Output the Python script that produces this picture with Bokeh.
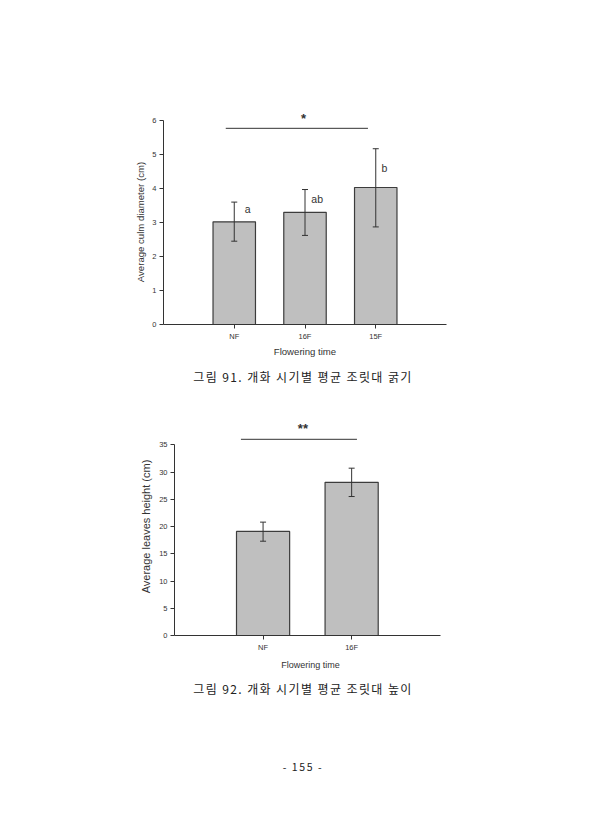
from bokeh.plotting import figure
from bokeh.models import FixedTicker, Div, Spacer, ColumnDataSource, Whisker, TeeHead, Range1d
from bokeh.layouts import column, row
from bokeh.embed import file_html
from bokeh.resources import INLINE
from bokeh.core.properties import value

# ---------- data: chart 1 (culm diameter) ----------
cats1 = ["NF", "16F", "15F"]
mean1 = [3.02, 3.30, 4.03]
lower1 = [2.45, 2.62, 2.87]
upper1 = [3.60, 3.97, 5.17]
letters1 = ["a", "ab", "b"]
letter_y1 = [3.39, 3.70, 4.60]
yticks1 = [0, 1, 2, 3, 4, 5, 6]
sig1 = "*"

# ---------- data: chart 2 (leaves height) ----------
cats2 = ["NF", "16F"]
mean2 = [19.1, 28.1]
lower2 = [17.3, 25.5]
upper2 = [20.8, 30.7]
yticks2 = [0, 5, 10, 15, 20, 25, 30, 35]
sig2 = "**"

caption1 = "그림 91. 개화 시기별 평균 조릿대 굵기"
caption2 = "그림 92. 개화 시기별 평균 조릿대 높이"
page_no = "- 155 -"

FONT = "Liberation Sans"
AX = "#333333"
BAR_FILL = "#bfbfbf"
BAR_LINE = "#3c3c3c"
W = 606
BL, BR = 163, 160   # shared left/right borders (frames get aligned in a column)
SHIFT2 = 11         # horizontal offset of the second chart
NBSP = "\u00a0"


def style(p, yticks, ytop, xn, cats, ylabel, ylab_size, xlab_size, ylab_standoff, xlab_standoff):
    p.outline_line_color = None
    p.xgrid.visible = False
    p.ygrid.visible = False
    p.background_fill_color = "white"
    p.border_fill_color = "white"
    xa = p.xaxis[0]
    ya = p.yaxis[0]
    xa.ticker = FixedTicker(ticks=list(range(1, len(cats) + 1)))
    xa.major_label_overrides = {i + 1: c for i, c in enumerate(cats)}
    xa.bounds = (0, xn)
    ya.ticker = FixedTicker(ticks=yticks)
    ya.bounds = (0, ytop)
    for a in (xa, ya):
        a.axis_line_color = AX
        a.axis_line_width = 1
        a.major_tick_line_color = AX
        a.major_tick_in = 0
        a.major_tick_out = 4
        a.minor_tick_line_color = None
        a.major_label_text_font = FONT
        a.major_label_text_font_size = "7.5px"
        a.major_label_text_color = AX
        a.axis_label_text_font = FONT
        a.axis_label_text_font_style = "normal"
        a.axis_label_text_color = AX
    xa.major_label_standoff = 3
    ya.major_label_standoff = 3
    xa.axis_label = "Flowering time"
    xa.axis_label_text_font_size = xlab_size
    xa.axis_label_standoff = xlab_standoff
    ya.axis_label = ylabel
    ya.axis_label_text_font_size = ylab_size
    ya.axis_label_standoff = ylab_standoff


def bars(p, cats, mean, lower, upper):
    xs = list(range(1, len(cats) + 1))
    src = ColumnDataSource(dict(x=xs, top=mean, lower=lower, upper=upper))
    p.vbar(x="x", top="top", width=0.6, bottom=0, source=src,
           fill_color=BAR_FILL, line_color=BAR_LINE, line_width=1.2)
    wk = Whisker(base="x", lower="lower", upper="upper", source=src,
                 line_color="#333333", line_width=1, level="overlay",
                 upper_head=TeeHead(size=6, line_color="#333333", line_width=1),
                 lower_head=TeeHead(size=6, line_color="#333333", line_width=1))
    p.add_layout(wk)
    return xs


# ---------- figure 1 ----------
p1 = figure(width=W, height=362, output_backend="svg", toolbar_location=None,
            x_range=Range1d(0, 4), y_range=Range1d(0, 6.5),
            min_border_left=BL, min_border_right=BR, min_border_top=103, min_border_bottom=38)
xs1 = bars(p1, cats1, mean1, lower1, upper1)
p1.text(x=[x + o for x, o in zip(xs1, [0.15, 0.09, 0.08])], y=letter_y1, text=letters1,
        text_font=value(FONT), text_font_size="10.5px", text_color="#333333",
        text_baseline="middle", text_align="left")
p1.segment(x0=[0.88], y0=[5.77], x1=[2.89], y1=[5.77], line_color="#333333", line_width=1)
p1.text(x=[1.98], y=[6.05], text=[sig1], text_font=value(FONT), text_font_size="13px",
        text_font_style="bold", text_color="#333333", text_align="center",
        text_baseline="alphabetic")
# trailing no-break spaces move the rotated label down so it centres on the 0-6 axis
style(p1, yticks1, 6, 4, cats1, "Average culm diameter (cm)" + NBSP * 6, "9.6px", "9.6px", 3, 2)

# ---------- figure 2 ----------
p2 = figure(width=W - SHIFT2, height=280, output_backend="svg", toolbar_location=None,
            x_range=Range1d(0, 3.071), y_range=Range1d(0, 40),
            min_border_left=BL, min_border_right=BR, min_border_top=25, min_border_bottom=35)
bars(p2, cats2, mean2, lower2, upper2)
p2.segment(x0=[0.75], y0=[36.0], x1=[2.06], y1=[36.0], line_color="#333333", line_width=1)
p2.text(x=[1.45], y=[37.9], text=[sig2], text_font=value(FONT), text_font_size="13px",
        text_font_style="bold", text_color="#333333", text_align="center",
        text_baseline="alphabetic")
style(p2, yticks2, 35, 3, cats2, "Average leaves height (cm)", "11px", "9px", 4, 5)


def cap(txt, h, size, spacing):
    return Div(text=f'<div style="width:{W}px;height:{h}px;line-height:{h}px;text-align:center;'
                    f'font-family:\'Noto Sans CJK KR\';font-size:{size}px;letter-spacing:{spacing}px;'
                    f'color:#222;white-space:nowrap;">{txt}</div>',
               width=W, height=h, margin=(0, 0, 0, 0))


layout = column(p1, cap(caption1, 30, 12, 1.4),
                row(Spacer(width=SHIFT2, height=280), p2, spacing=0),
                cap(caption2, 34, 12, 1.4),
                Spacer(width=W, height=49), cap(page_no, 24, 10.5, 1.6), spacing=0)

open("out.html", "w").write(file_html(layout, INLINE))
